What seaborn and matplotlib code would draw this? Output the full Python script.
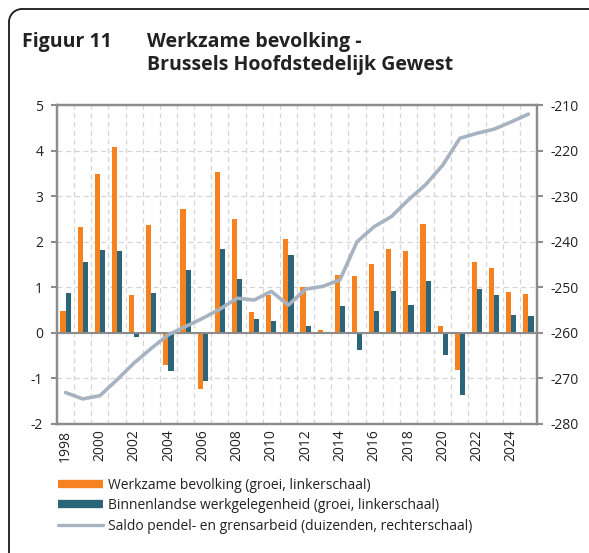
import numpy as np
import pandas as pd
import matplotlib
matplotlib.use('Agg')
import matplotlib.pyplot as plt
from matplotlib.lines import Line2D
from matplotlib.patches import Arc
import seaborn as sns

# data
years = list(range(1998, 2026))
werkzame = [0.48, 2.33, 3.49, 4.08, 0.83, 2.37, -0.70, 2.71, -1.23, 3.53,
            2.50, 0.45, 0.83, 2.05, 1.00, 0.06, 1.26, 1.25, 1.52, 1.85,
            1.79, 2.39, 0.15, -0.81, 1.55, 1.42, 0.90, 0.85]
binnenlands = [0.87, 1.56, 1.82, 1.80, -0.10, 0.88, -0.83, 1.38, -1.05, 1.85,
               1.19, 0.31, 0.27, 1.70, 0.14, 0.01, 0.59, -0.38, 0.49, 0.91,
               0.62, 1.13, -0.48, -1.37, 0.96, 0.82, 0.39, 0.36]
saldo = [-273.1, -274.5, -273.8, -270.3, -266.6, -263.4, -260.4, -258.6, -256.8, -254.8,
         -252.4, -252.8, -250.9, -253.9, -250.4, -249.8, -248.4, -240.0, -236.7, -234.5,
         -230.8, -227.5, -223.2, -217.3, -216.2, -215.3, -213.7, -212.0]

lbl_werk = 'Werkzame bevolking (groei, linkerschaal)'
lbl_binnen = 'Binnenlandse werkgelegenheid (groei, linkerschaal)'
lbl_saldo = 'Saldo pendel- en grensarbeid (duizenden, rechterschaal)'

orange = '#f5821f'
teal = '#2c6579'
grey_line = '#a7b3c1'
spine_c = '#8c8c8c'

df = pd.DataFrame({
    'jaar': [str(y) for y in years] * 2,
    'waarde': werkzame + binnenlands,
    'reeks': [lbl_werk] * len(years) + [lbl_binnen] * len(years),
})

sns.set_style('white')
plt.rcParams['font.family'] = ['Open Sans', 'DejaVu Sans']
plt.rcParams['axes.unicode_minus'] = False

fig = plt.figure(figsize=(5.89, 5.53), dpi=100)
ax = fig.add_axes([0.0968, 0.2333, 0.8149, 0.5768])

# frame: only the top and left edges with a rounded corner are visible
r = 0.13
x0, ytop = 0.09, 5.53 - 0.09
frame_kw = dict(color='#1a1a1a', lw=1.3, transform=fig.dpi_scale_trans)
fig.add_artist(Line2D([x0 + r, 7.0], [ytop, ytop], **frame_kw))
fig.add_artist(Line2D([x0, x0], [ytop - r, -1.0], **frame_kw))
fig.add_artist(Arc((x0 + r, ytop - r), 2 * r, 2 * r, theta1=90, theta2=180,
                   color='#1a1a1a', lw=1.3, transform=fig.dpi_scale_trans))

sns.barplot(data=df, x='jaar', y='waarde', hue='reeks',
            palette=[orange, teal], width=0.6, ax=ax, legend=False,
            saturation=1, edgecolor='none', linewidth=0, zorder=3)

n = len(years)
ax.set_xlim(-0.5, n - 0.5)
ax.set_ylim(-2, 5)
ax.set_yticks(range(-2, 6))
ax.set_xticks(range(0, n, 2))
ax.set_xticklabels([str(y) for y in years[::2]], rotation=90)
ax.set_xticks(np.arange(0.5, n - 0.5, 1), minor=True)
ax.grid(True, which='minor', axis='x', linestyle=(0, (4, 3)), color='#d5d5d5', lw=0.9)
ax.grid(True, which='major', axis='y', linestyle=(0, (4, 3)), color='#d5d5d5', lw=0.9)
ax.set_axisbelow(True)
ax.axhline(0, color=spine_c, lw=1.5, zorder=3.5)
ax.set_xlabel('')
ax.set_ylabel('')
ax.tick_params(axis='x', which='both', length=0, labelsize=10, pad=4, colors='#222222')
ax.tick_params(axis='y', length=4, width=1.5, color=spine_c, labelsize=10,
               labelcolor='#222222', pad=6)

ax2 = ax.twinx()
sns.lineplot(x=np.arange(n), y=saldo, ax=ax2, color=grey_line, lw=2.6, zorder=4)
ax2.set_ylim(-280, -210)
ax2.set_yticks(range(-280, -209, 10))
ax2.tick_params(axis='y', length=4, width=1.5, color=spine_c, labelsize=10,
                labelcolor='#222222', pad=6)
ax2.set_xlim(-0.5, n - 0.5)

for a in (ax, ax2):
    for s in a.spines.values():
        s.set_color(spine_c)
        s.set_linewidth(1.6)
        s.set_visible(True)

title_kw = dict(fontsize=14, fontweight='bold', color='#222222', va='baseline')
fig.text(22 / 589, 1 - 47 / 553, 'Figuur 11', **title_kw)
fig.text(147 / 589, 1 - 47 / 553, 'Werkzame bevolking -', **title_kw)
fig.text(147 / 589, 1 - 70 / 553, 'Brussels Hoofdstedelijk Gewest', **title_kw)

handles = [Line2D([], [], color=orange, lw=6, solid_capstyle='butt'),
           Line2D([], [], color=teal, lw=6, solid_capstyle='butt'),
           Line2D([], [], color=grey_line, lw=2.4, solid_capstyle='round')]
fig.legend(handles, [lbl_werk, lbl_binnen, lbl_saldo], loc='upper left',
           bbox_to_anchor=(52 / 589, 1 - 472 / 553), frameon=False,
           fontsize=10, handlelength=3.3, handletextpad=0.3, labelspacing=0.4,
           borderaxespad=0, labelcolor='#222222')

fig.savefig('out.png', dpi=100)
